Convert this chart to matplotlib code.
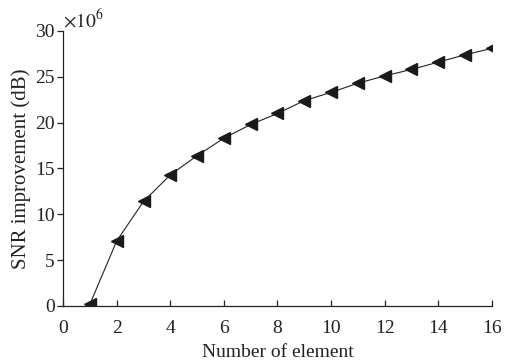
import matplotlib
matplotlib.use("Agg")
import matplotlib.pyplot as plt

elements = [1, 2, 3, 4, 5, 6, 7, 8, 9, 10, 11, 12, 13, 14, 15, 16]
snr_improvement = [0.2, 7.1, 11.4, 14.3, 16.4, 18.3, 19.8, 21.0, 22.4, 23.3,
                   24.3, 25.1, 25.8, 26.6, 27.4, 28.1]  # x 1e6
xticks = [0, 2, 4, 6, 8, 10, 12, 14, 16]
yticks = [0, 5, 10, 15, 20, 25, 30]

plt.rcParams['font.family'] = ['Liberation Serif', 'DejaVu Serif']
plt.rcParams['mathtext.fontset'] = 'stix'

fig = plt.figure(figsize=(5.05, 3.60), dpi=100)
ax = fig.add_axes([0.125, 0.15, 0.849, 0.764])

ax.plot(elements, snr_improvement, color='#222222', lw=0.8,
        marker='<', markersize=8, markerfacecolor='#1a1a1a',
        markeredgecolor='#1a1a1a')

ax.set_xlim(0, 16)
ax.set_ylim(0, 30)
ax.set_xticks(xticks)
ax.set_yticks(yticks)
ax.spines['top'].set_visible(False)
ax.spines['right'].set_visible(False)
for s in ['left', 'bottom']:
    ax.spines[s].set_linewidth(0.9)
    ax.spines[s].set_color('#222222')
ax.tick_params(axis='x', direction='in', length=4, width=0.9, labelsize=14, pad=10, colors='#222222')
ax.tick_params(axis='y', direction='out', length=4, width=0.9, labelsize=14, pad=2, colors='#222222')

ax.set_xlabel('Number of element', fontsize=14, labelpad=5, color='#222222')
ax.set_ylabel('SNR improvement (dB)', fontsize=15, labelpad=3, color='#222222')
ax.text(0.0, 1.0, r'$\times10^{6}$', transform=ax.transAxes, fontsize=14,
        ha='left', va='bottom', color='#222222')

fig.savefig('out.png', dpi=100)
